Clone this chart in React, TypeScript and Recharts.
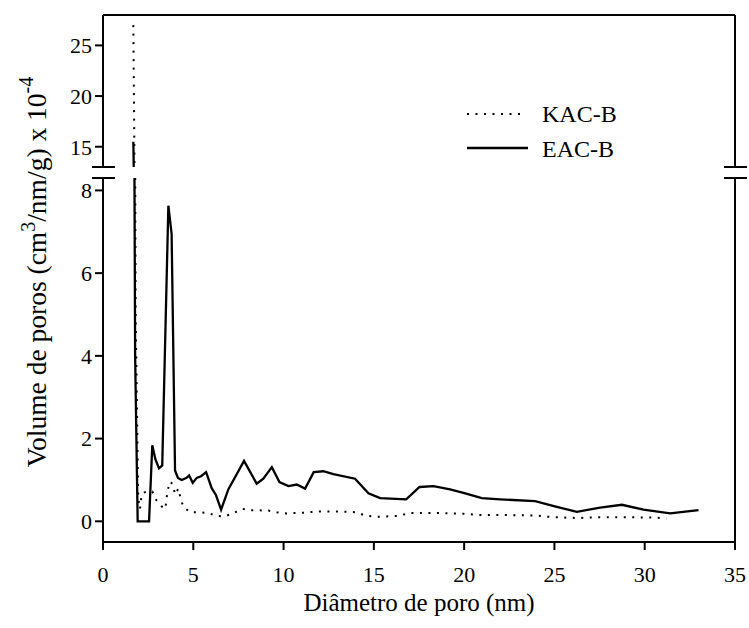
import { LineChart, Line, XAxis, YAxis, ReferenceLine } from 'recharts';

// KAC-B (dotted)
const kacX = [1.68, 1.74, 1.81, 1.95, 2.05, 2.14, 2.3, 2.5, 2.73, 2.97, 3.25, 3.45, 3.58, 3.72, 3.85, 4.0, 4.17, 4.3, 4.45, 4.82, 5.37, 5.84, 6.3, 6.76, 7.22, 7.74, 8.24, 9.16, 9.62, 10.17, 11.1, 12.0, 13.0, 14.0, 14.6, 15.3, 16.3, 17.0, 18.5, 20.0, 21.0, 22.5, 24.0, 24.9, 26.3, 27.5, 29.0, 30.5, 31.2];
const kacY = [27.0, 14.0, 5.0, 0.55, 0.3, 0.65, 0.7, 0.72, 0.72, 0.5, 0.36, 0.3, 0.75, 0.96, 0.9, 0.65, 0.79, 0.55, 0.35, 0.22, 0.22, 0.2, 0.13, 0.12, 0.2, 0.3, 0.27, 0.26, 0.22, 0.19, 0.21, 0.24, 0.24, 0.22, 0.13, 0.11, 0.13, 0.2, 0.2, 0.18, 0.15, 0.15, 0.14, 0.1, 0.08, 0.1, 0.1, 0.09, 0.07];

// EAC-B (solid)
const eacX = [1.68, 1.78, 1.92, 2.55, 2.73, 2.9, 3.1, 3.28, 3.62, 3.8, 3.99, 4.15, 4.36, 4.63, 4.77, 4.97, 5.19, 5.43, 5.71, 6.02, 6.26, 6.54, 6.94, 7.81, 8.51, 8.88, 9.35, 9.77, 10.27, 10.73, 11.19, 11.67, 12.2, 12.76, 13.96, 14.7, 15.35, 16.79, 17.53, 18.3, 19.22, 19.96, 20.98, 22.0, 23.93, 25.13, 26.24, 27.53, 28.74, 29.93, 31.41, 32.98];
const eacY = [15.5, 4.0, 0, 0, 1.84, 1.5, 1.28, 1.35, 7.63, 6.95, 1.23, 1.05, 1.0, 1.05, 1.11, 0.93, 1.05, 1.09, 1.19, 0.8, 0.63, 0.28, 0.77, 1.46, 0.91, 1.03, 1.31, 0.95, 0.85, 0.89, 0.79, 1.19, 1.21, 1.14, 1.03, 0.68, 0.56, 0.53, 0.83, 0.85, 0.77, 0.69, 0.56, 0.53, 0.49, 0.35, 0.23, 0.33, 0.4, 0.28, 0.19, 0.27];

const xTicks = [0, 5, 10, 15, 20, 25, 30, 35];
const upperTicks = [15, 20, 25];
const lowerTicks = [0, 2, 4, 6, 8];

const kacData = kacX.map((x, i) => ({ x, y: kacY[i] }));
const eacData = eacX.map((x, i) => ({ x, y: eacY[i] }));

const FONT = 'Liberation Serif';
const axisStyle = { stroke: '#000', strokeWidth: 2 };
const tickStyle = { fill: '#000', fontSize: 22, fontFamily: FONT, style: { fontFamily: FONT } };

function lines() {
  return [
    <Line
      key="kac"
      data={kacData}
      dataKey="y"
      name="KAC-B"
      type="linear"
      stroke="#000"
      strokeWidth={2}
      strokeDasharray="2 6.5"
      dot={false}
      activeDot={false}
      isAnimationActive={false}
    />,
    <Line
      key="eac"
      data={eacData}
      dataKey="y"
      name="EAC-B"
      type="linear"
      stroke="#000"
      strokeWidth={2.3}
      dot={false}
      activeDot={false}
      isAnimationActive={false}
    />,
  ];
}

export default function App() {
  return (
    <div
      style={{
        position: 'absolute',
        left: 0,
        top: 0,
        width: 749,
        height: 628,
        background: '#fff',
        fontFamily: FONT,
      }}
    >
      <div style={{ position: 'absolute', left: 0, top: 0 }}>
        <LineChart width={749} height={167} margin={{ top: 15, right: 14, left: 63, bottom: 0 }} style={{ fontFamily: FONT }}>
          <XAxis type="number" dataKey="x" domain={[0, 35]} ticks={xTicks} hide />
          <YAxis
            type="number"
            domain={[13, 28]}
            ticks={upperTicks}
            allowDataOverflow
            width={40}
            tickSize={8}
            tickMargin={3}
            axisLine={axisStyle}
            tickLine={axisStyle}
            tick={tickStyle}
          />
          <ReferenceLine y={28} stroke="#000" strokeWidth={2} />
          <ReferenceLine x={35} stroke="#000" strokeWidth={2} />
          {lines()}
        </LineChart>
      </div>
      <div style={{ position: 'absolute', left: 0, top: 168 }}>
        <LineChart width={749} height={460} margin={{ top: 10, right: 14, left: 63, bottom: 36 }} style={{ fontFamily: FONT }}>
          <XAxis
            type="number"
            dataKey="x"
            domain={[0, 35]}
            ticks={xTicks}
            height={50}
            tickSize={8}
            tickMargin={16}
            axisLine={axisStyle}
            tickLine={axisStyle}
            tick={tickStyle}
          />
          <YAxis
            type="number"
            domain={[-0.5, 8.3]}
            ticks={lowerTicks}
            allowDataOverflow
            width={40}
            tickSize={8}
            tickMargin={3}
            axisLine={axisStyle}
            tickLine={axisStyle}
            tick={tickStyle}
          />
          <ReferenceLine x={35} stroke="#000" strokeWidth={2} />
          {lines()}
        </LineChart>
      </div>
      <svg
        width={749}
        height={628}
        style={{ position: 'absolute', left: 0, top: 0, pointerEvents: 'none', fontFamily: FONT }}
      >
        {/* axis break marks */}
        <line x1={92} x2={115} y1={167} y2={167} stroke="#000" strokeWidth={2} />
        <line x1={92} x2={115} y1={178} y2={178} stroke="#000" strokeWidth={2} />
        <line x1={724} x2={747} y1={167} y2={167} stroke="#000" strokeWidth={2} />
        <line x1={724} x2={747} y1={178} y2={178} stroke="#000" strokeWidth={2} />
        {/* legend */}
        <line x1={467} x2={520} y1={114} y2={114} stroke="#000" strokeWidth={2} strokeDasharray="2 6.5" />
        <text x={542} y={122} fontSize={24} fill="#000">KAC-B</text>
        <line x1={467} x2={528} y1={148} y2={148} stroke="#000" strokeWidth={2.3} />
        <text x={542} y={157} fontSize={24} fill="#000">EAC-B</text>
        {/* axis titles */}
        <text x={419} y={611} fontSize={25} textAnchor="middle" fill="#000">
          Diâmetro de poro (nm)
        </text>
        <text transform="translate(46, 272) rotate(-90)" fontSize={27.5} textAnchor="middle" fill="#000">
          Volume de poros (cm
          <tspan dy={-11} fontSize={20}>3</tspan>
          <tspan dy={11}>/nm/g) x 10</tspan>
          <tspan dy={-13} fontSize={20}>-4</tspan>
        </text>
      </svg>
    </div>
  );
}
